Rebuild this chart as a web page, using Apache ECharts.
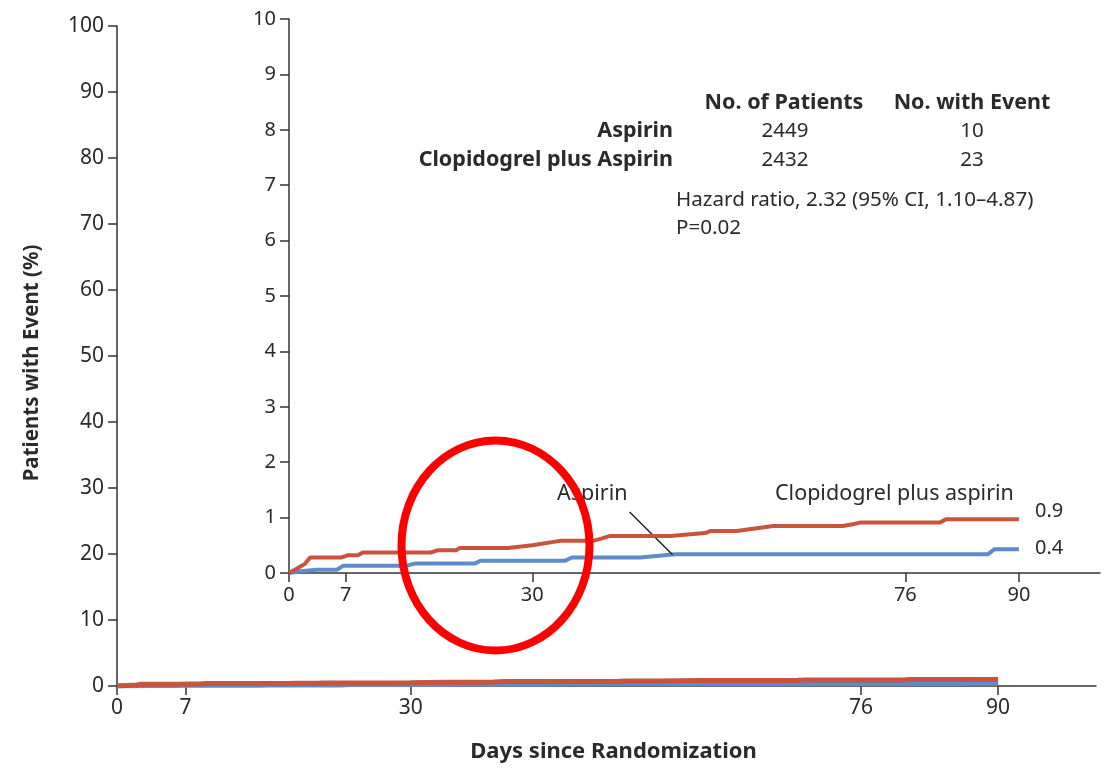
<!DOCTYPE html>
<html>
<head>
<meta charset="utf-8">
<script src="https://cdn.jsdelivr.net/npm/echarts@6/dist/echarts.min.js"></script>
<style>
html,body{margin:0;padding:0;background:#fff;}
#chart{width:1104px;height:771px;}
</style>
</head>
<body>
<div id="chart"></div>
<script>
// ---- data (days since randomization, % patients with event) ----
var xTicks = [0, 7, 30, 76, 90];
var aspirin = [
  [0,0],[1.5,0.03],[3.4,0.06],[5.9,0.06],[6.7,0.13],[14.5,0.13],[15.5,0.17],
  [22.9,0.17],[23.6,0.22],[34,0.22],[34.9,0.28],[43.3,0.28],[47.6,0.34],
  [86.2,0.34],[87,0.43],[90,0.43]
];
var clopidogrelAspirin = [
  [0,0],[1,0.08],[2,0.17],[2.6,0.28],[6.5,0.28],[7.2,0.32],[8.5,0.32],[9.1,0.37],
  [17.5,0.37],[18.3,0.41],[20.6,0.41],[21,0.45],[27,0.45],[30,0.5],[33.4,0.58],
  [37.5,0.58],[38.5,0.62],[39.6,0.67],[47,0.67],[51.3,0.72],[52,0.76],[55.2,0.76],
  [59.7,0.85],[68.3,0.85],[69.5,0.88],[70.4,0.91],[80.3,0.91],[81,0.97],[90,0.97]
];
var tableHeaders = ['No. of Patients', 'No. with Event'];
var groups = ['Aspirin', 'Clopidogrel plus Aspirin'];
var nPatients = ['2449', '2432'];
var nEvents = ['10', '23'];
var endLabels = ['0.9', '0.4'];

var RED = '#c9533b', BLUE = '#5f8bc9', AX = '#333333', TXT = '#2a2a2a';
var FONT = 'Noto Sans';

function xAxisCfg(gridIndex, fs){
  return {
    type:'value', gridIndex:gridIndex, min:0, max:100,
    axisLine:{show:true, lineStyle:{color:AX, width:1.5}},
    axisTick:{show:true, customValues:xTicks, length:9, lineStyle:{color:AX, width:1.5}},
    axisLabel:{customValues:xTicks, color:TXT, fontSize:fs, fontFamily:FONT, margin:12},
    splitLine:{show:false}
  };
}
function yAxisCfg(gridIndex, max, interval, fs){
  return {
    type:'value', gridIndex:gridIndex, min:0, max:max, interval:interval,
    axisLine:{show:true, lineStyle:{color:AX, width:1.5}},
    axisTick:{show:true, length:9, lineStyle:{color:AX, width:1.5}},
    axisLabel:{color:TXT, fontSize:fs, fontFamily:FONT, margin:13},
    splitLine:{show:false}
  };
}

var mainX = xAxisCfg(0, 21);
mainX.name = 'Days since Randomization';
mainX.nameLocation = 'middle';
mainX.nameGap = 55;
mainX.nameTextStyle = {fontSize:22, fontWeight:'bold', color:TXT, fontFamily:FONT, padding:[0,0,0,14]};
var mainY = yAxisCfg(0, 100, 10, 21);
mainY.name = 'Patients with Event (%)';
mainY.nameLocation = 'middle';
mainY.nameGap = 74;
mainY.nameTextStyle = {fontSize:20.5, fontWeight:'bold', color:TXT, fontFamily:FONT, padding:[0,14,0,0]};

var texts = [];
function t(x, y, s, opts){
  var st = {text:s, x:0, y:0, fill:TXT, font:(opts.bold?'bold ':'')+opts.fs+'px "'+FONT+'"',
            textAlign:opts.align||'left', textVerticalAlign:'middle'};
  texts.push({type:'text', x:x, y:y, style:st, z:10});
}
// table
t(784, 103, tableHeaders[0], {bold:true, fs:21.5, align:'center'});
t(972, 103, tableHeaders[1], {bold:true, fs:21.5, align:'center'});
t(673, 131, groups[0], {bold:true, fs:21.5, align:'right'});
t(673, 160, groups[1], {bold:true, fs:21.5, align:'right'});
t(785, 131, nPatients[0], {fs:20.5, align:'center'});
t(785, 160, nPatients[1], {fs:20.5, align:'center'});
t(972, 131, nEvents[0], {fs:20.5, align:'center'});
t(972, 160, nEvents[1], {fs:20.5, align:'center'});
t(676, 200, 'Hazard ratio, 2.32 (95% CI, 1.10\u20134.87)', {fs:20.6});
t(676, 228, 'P=0.02', {fs:20.6});
// curve labels
t(557, 494, 'Aspirin', {fs:21.5});
t(775, 494, 'Clopidogrel plus aspirin', {fs:21.5});
t(1035, 511, endLabels[0], {fs:20});
t(1035, 548, endLabels[1], {fs:20});
// red annotation circle
texts.push({type:'ellipse', shape:{cx:495.5, cy:545.5, rx:94, ry:105},
  style:{fill:'none', stroke:'#ff0000', lineWidth:8}, z:20});

var option = {
  animation:false,
  backgroundColor:'#ffffff',
  grid:[
    {left:117, top:26, width:979, height:660, containLabel:false},
    {left:289, top:19, width:811, height:554, containLabel:false}
  ],
  xAxis:[mainX, xAxisCfg(1, 20)],
  yAxis:[mainY, yAxisCfg(1, 10, 1, 20)],
  series:[
    {type:'line', name:'Aspirin', xAxisIndex:0, yAxisIndex:0, data:aspirin,
     showSymbol:false, lineStyle:{color:BLUE, width:5}, itemStyle:{color:BLUE}, z:2},
    {type:'line', name:'Clopidogrel plus aspirin', xAxisIndex:0, yAxisIndex:0, data:clopidogrelAspirin,
     showSymbol:false, lineStyle:{color:RED, width:5}, itemStyle:{color:RED}, z:3},
    {type:'line', name:'Aspirin (inset)', xAxisIndex:1, yAxisIndex:1, data:aspirin,
     showSymbol:false, lineStyle:{color:BLUE, width:4}, itemStyle:{color:BLUE}, z:4,
     markLine:{silent:true, symbol:['none','none'], label:{show:false},
       lineStyle:{color:'#222', width:1.5, type:'solid'},
       data:[[{coord:[42,1.1]},{coord:[47.3,0.33]}]]}},
    {type:'line', name:'Clopidogrel plus aspirin (inset)', xAxisIndex:1, yAxisIndex:1, data:clopidogrelAspirin,
     showSymbol:false, lineStyle:{color:RED, width:4}, itemStyle:{color:RED}, z:5}
  ],
  graphic:texts
};
var chart = echarts.init(document.getElementById('chart'));
chart.setOption(option);
</script>
</body>
</html>
